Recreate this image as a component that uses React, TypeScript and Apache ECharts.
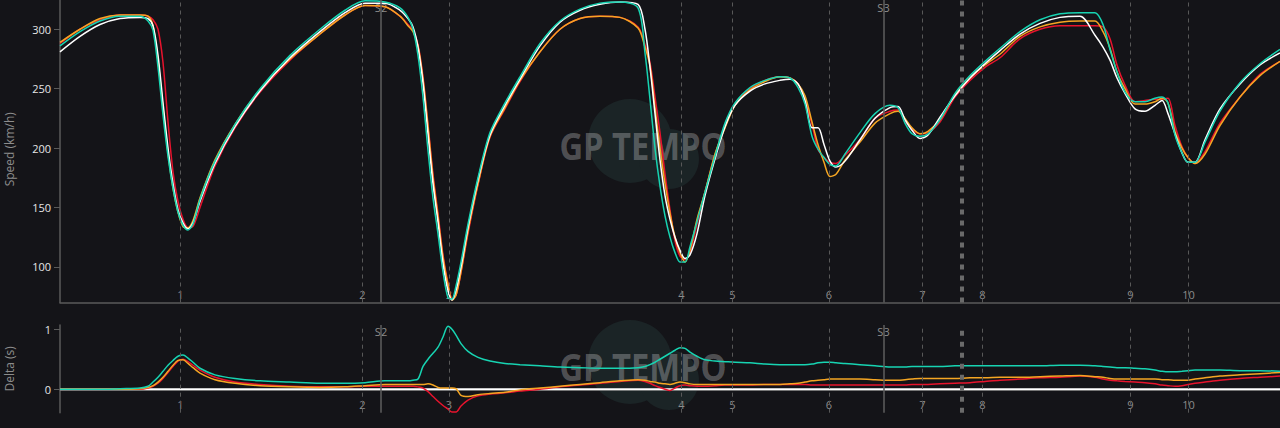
import React, { useEffect, useRef } from "react";
import * as echarts from "echarts";

// lap distance (m) of each sample
const distance = [
  0, 40, 80, 120, 160, 176, 186, 196, 206, 216, 226, 236, 246, 256, 266, 280, 310, 350, 400, 460,
  520, 570, 610, 650, 680, 696, 706, 716, 726, 736, 746, 756, 766, 776, 784, 792, 802, 816, 836, 860,
  890, 920, 960, 1000, 1040, 1080, 1120, 1156, 1170, 1180, 1190, 1200, 1210, 1220, 1230, 1240, 1250, 1260, 1274, 1290,
  1310, 1330, 1350, 1380, 1410, 1440, 1460, 1476, 1490, 1504, 1516, 1528, 1540, 1552, 1570, 1600, 1630, 1660, 1676, 1690,
  1704, 1720, 1736, 1760, 1790, 1820, 1850, 1880, 1920, 1960, 2000, 2040, 2070, 2086, 2100, 2114, 2130, 2150, 2170, 2190,
  2204, 2216, 2230, 2244, 2256, 2270, 2290, 2320, 2360, 2400, 2440,
];

const speedWhite = [
  281, 294, 304, 309, 310, 309, 303, 278, 238, 200, 170, 148, 137, 132, 137,
  155, 187, 218, 248, 276, 298, 314, 322, 322, 316, 309, 302, 285, 255, 212,
  170, 138, 103, 80, 72, 80, 100, 133, 173, 211, 236, 258, 286, 306, 316,
  321, 323, 321, 300, 268, 229, 190, 160, 140, 125, 114, 107, 110, 128, 160,
  191, 218, 236, 248, 254, 257, 258, 254, 240, 217, 217, 203, 189, 184, 189,
  207, 225, 234, 235, 224, 215, 208, 211, 226, 244, 259, 271, 282, 296, 305,
  310, 311, 295, 285, 274, 259, 246, 233, 231, 236, 240, 229, 212, 196, 188,
  188, 207, 233, 254, 270, 280,
];
const speedTeal = [
  286, 298, 307, 311, 311, 307, 299, 268, 228, 193, 166, 146, 135, 131, 136,
  157, 189, 220, 250, 278, 300, 316, 324, 323, 318, 310, 300, 278, 243, 198,
  158, 128, 96, 74, 73, 84, 104, 136, 175, 213, 238, 260, 288, 307, 317,
  322, 323, 318, 280, 241, 200, 168, 143, 125, 112, 104, 104, 117, 138, 163,
  193, 221, 238, 251, 257, 260, 259, 251, 237, 210, 199, 192, 186, 185, 195,
  213, 229, 236, 234, 221, 212, 210, 212, 224, 246, 261, 273, 284, 298, 308,
  313, 314, 314, 304, 283, 264, 247, 239, 239, 242, 243, 238, 211, 196, 188,
  188, 205, 231, 255, 271, 283,
];
const speedOrange = [
  289, 300, 309, 312, 312, 311, 303, 274, 234, 196, 166, 146, 134, 133, 139,
  158, 190, 220, 249, 275, 296, 312, 320, 319, 311, 303, 298, 286, 258, 218,
  175, 142, 108, 85, 72, 76, 96, 130, 170, 210, 234, 257, 281, 300, 309,
  311, 310, 301, 285, 269, 234, 200, 170, 145, 125, 112, 104, 114, 140, 163,
  195, 217, 236, 249, 256, 260, 259, 254, 244, 222, 203, 188, 176, 178, 190,
  205, 221, 229, 231, 225, 217, 212, 214, 224, 245, 259, 270, 279, 294, 302,
  306, 307, 307, 298, 284, 264, 250, 237, 237, 239, 242, 238, 214, 200, 192,
  187, 195, 219, 243, 261, 273,
];
const speedRed = [
  288, 300, 308, 312, 312, 311, 308, 300, 272, 222, 180, 155, 140, 133, 134,
  150, 185, 217, 247, 274, 296, 312, 320, 319, 311, 304, 299, 287, 260, 220,
  178, 145, 110, 86, 73, 76, 95, 128, 169, 209, 233, 256, 281, 300, 309,
  311, 310, 302, 287, 272, 243, 213, 178, 148, 122, 109, 106, 112, 136, 163,
  194, 219, 237, 250, 257, 260, 259, 254, 240, 220, 199, 192, 188, 187, 194,
  207, 225, 231, 232, 223, 216, 212, 213, 222, 243, 257, 268, 276, 292, 300,
  303, 303, 303, 302, 292, 270, 253, 239, 240, 241, 241, 242, 219, 201, 192,
  187, 197, 221, 243, 262, 273,
];

// delta to the reference lap (s)
const deltaWhiteDistance = [0, 2440];
const deltaWhite = [0, 0];
const deltaTeal = [
  0, 0, 0, 0.01, 0.02, 0.05, 0.12, 0.2, 0.3, 0.4, 0.48, 0.55, 0.57, 0.52, 0.45,
  0.35, 0.24, 0.18, 0.14, 0.12, 0.1, 0.1, 0.11, 0.14, 0.14, 0.14, 0.15, 0.17, 0.38, 0.5,
  0.6, 0.7, 0.87, 1.05, 1.0, 0.9, 0.76, 0.63, 0.53, 0.47, 0.43, 0.41, 0.39, 0.37, 0.36,
  0.35, 0.35, 0.36, 0.38, 0.41, 0.45, 0.5, 0.55, 0.6, 0.65, 0.69, 0.68, 0.62, 0.55, 0.49,
  0.47, 0.46, 0.45, 0.44, 0.42, 0.41, 0.41, 0.41, 0.41, 0.42, 0.44, 0.45, 0.45, 0.44, 0.43,
  0.41, 0.39, 0.37, 0.37, 0.37, 0.38, 0.38, 0.38, 0.38, 0.39, 0.39, 0.39, 0.39, 0.39, 0.39,
  0.4, 0.4, 0.39, 0.38, 0.37, 0.36, 0.36, 0.35, 0.34, 0.32, 0.3, 0.29, 0.29, 0.3, 0.31,
  0.32, 0.32, 0.32, 0.31, 0.31, 0.3,
];
const deltaOrange = [
  0, 0, 0, 0, 0.01, 0.03, 0.06, 0.12, 0.2, 0.3, 0.4, 0.48, 0.49, 0.43, 0.36,
  0.27, 0.16, 0.1, 0.06, 0.04, 0.03, 0.04, 0.06, 0.08, 0.08, 0.08, 0.08, 0.08, 0.08, 0.09,
  0.07, 0.03, 0.02, 0.02, 0.02, 0.01, -0.1, -0.12, -0.09, -0.07, -0.05, -0.01, 0.02, 0.05, 0.08,
  0.11, 0.14, 0.16, 0.15, 0.13, 0.12, 0.1, 0.09, 0.08, 0.1, 0.12, 0.11, 0.09, 0.08, 0.08,
  0.08, 0.08, 0.08, 0.08, 0.08, 0.08, 0.09, 0.1, 0.12, 0.14, 0.15, 0.16, 0.17, 0.17, 0.17,
  0.17, 0.16, 0.15, 0.15, 0.16, 0.17, 0.18, 0.18, 0.18, 0.18, 0.19, 0.19, 0.2, 0.2, 0.21,
  0.22, 0.23, 0.21, 0.2, 0.18, 0.17, 0.17, 0.17, 0.17, 0.17, 0.16, 0.16, 0.15, 0.15, 0.15,
  0.17, 0.19, 0.22, 0.24, 0.26, 0.28,
];
const deltaRed = [
  0, 0, 0, 0, 0, 0.02, 0.05, 0.1, 0.18, 0.28, 0.38, 0.47, 0.5, 0.46, 0.4,
  0.32, 0.2, 0.12, 0.08, 0.05, 0.04, 0.04, 0.05, 0.05, 0.05, 0.05, 0.05, 0.04, 0.02, -0.04,
  -0.12, -0.2, -0.27, -0.33, -0.38, -0.38, -0.28, -0.18, -0.11, -0.08, -0.06, -0.03, 0.0, 0.04, 0.07,
  0.1, 0.13, 0.15, 0.13, 0.1, 0.06, 0.03, 0.0, -0.02, 0.02, 0.06, 0.07, 0.06, 0.05, 0.05,
  0.06, 0.07, 0.07, 0.07, 0.08, 0.08, 0.08, 0.08, 0.08, 0.07, 0.07, 0.07, 0.07, 0.07, 0.07,
  0.07, 0.07, 0.07, 0.07, 0.07, 0.08, 0.08, 0.08, 0.09, 0.1, 0.11, 0.13, 0.15, 0.17, 0.19,
  0.2, 0.22, 0.2, 0.17, 0.15, 0.14, 0.13, 0.12, 0.11, 0.09, 0.07, 0.06, 0.05, 0.06, 0.08,
  0.1, 0.12, 0.15, 0.18, 0.2, 0.22,
];

const turnLabels = ["1", "2", "3", "4", "5", "6", "7", "8", "9", "10"];
const turnDistance = [241, 605, 778, 1243, 1345, 1538, 1725, 1845, 2141, 2257];
const sectorLabels = ["S2", "S3"];
const sectorDistance = [642, 1647];
const markerDistance = [1803];
const speedTicks = [100, 150, 200, 250, 300];
const deltaTicks = [0, 1];

const C_WHITE = "#ffffff";
const C_TEAL = "#17d4b2";
const C_ORANGE = "#f5a623";
const C_RED = "#e8132d";
const AXIS = "#5a5a5a";
const LABEL_GREY = "#8c8c8c";

const pairs = (xs: number[], ys: number[]) => xs.map((x, i) => [x, ys[i]]);

function watermark(cy: number) {
  return [
    { type: "circle", silent: true, z: 0, shape: { cx: 630, cy: cy - 4, r: 42 }, style: { fill: "#1b2426" } },
    { type: "circle", silent: true, z: 0, shape: { cx: 669, cy: cy + 14, r: 30 }, style: { fill: "#1b2426" } },
    {
      type: "text",
      silent: true,
      z: 1,
      x: 643,
      y: cy,
      scaleX: 0.86,
      style: {
        text: "GP TEMPO",
        font: 'bold 38px "Open Sans", sans-serif',
        fill: "rgba(255,255,255,0.27)",
        align: "center",
        verticalAlign: "middle",
      },
    },
  ];
}

function markLines() {
  return {
    silent: true,
    symbol: ["none", "none"],
    label: { show: false },
    emphasis: { disabled: true },
    animation: false,
    data: [
      ...turnDistance.map((d) => ({ xAxis: d, lineStyle: { color: "#585858", width: 1, type: [4, 4] } })),
      ...sectorDistance.map((d) => ({ xAxis: d, lineStyle: { color: "#5e5e5e", width: 1.5, type: "solid" } })),
      ...markerDistance.map((d) => ({ xAxis: d, lineStyle: { color: "#6a6a6a", width: 4, type: [5, 6] } })),
    ],
  };
}

export default function App() {
  const ref = useRef<HTMLDivElement>(null);
  useEffect(() => {
    if (!ref.current) return;
    const chart = echarts.init(ref.current, undefined, { renderer: "svg" });

    const xBottom = (gridIndex: number) => ({
      type: "value",
      gridIndex,
      min: 0,
      max: 2440,
      position: "bottom",
      axisLine: { show: true, lineStyle: { color: AXIS, width: 1.5 } },
      axisTick: { show: false },
      splitLine: { show: false },
      axisLabel: {
        inside: true,
        margin: 3,
        color: LABEL_GREY,
        fontSize: 11,
        customValues: turnDistance,
        formatter: (v: number) => {
          const i = turnDistance.indexOf(v);
          return i >= 0 ? turnLabels[i] : "";
        },
      },
    });
    const xTop = (gridIndex: number, margin: number) => ({
      type: "value",
      gridIndex,
      min: 0,
      max: 2440,
      position: "top",
      axisLine: { show: false },
      axisTick: { show: false },
      splitLine: { show: false },
      axisLabel: {
        inside: true,
        margin,
        color: LABEL_GREY,
        fontSize: 11,
        customValues: sectorDistance,
        formatter: (v: number) => {
          const i = sectorDistance.indexOf(v);
          return i >= 0 ? sectorLabels[i] : "";
        },
      },
    });

    const lineSeries = (name: string, color: string, data: number[][], xi: number, yi: number, width = 1.5, z = 3) => ({
      name,
      type: "line",
      xAxisIndex: xi,
      yAxisIndex: yi,
      data,
      showSymbol: false,
      symbol: "none",
      smooth: 0.3,
      z,
      lineStyle: { color, width },
      emphasis: { disabled: true },
      silent: true,
    });

    chart.setOption({
      animation: false,
      backgroundColor: "#141418",
      textStyle: { fontFamily: '"Open Sans", sans-serif' },
      graphic: [...watermark(145), ...watermark(366)],
      grid: [
        { left: 60, right: 0, top: -4, bottom: 125.5, containLabel: false, outerBoundsMode: "none" },
        { left: 60, right: 0, top: 325, bottom: 15.3, containLabel: false, outerBoundsMode: "none" },
      ],
      xAxis: [xBottom(0), xTop(0, 6), xBottom(1), xTop(1, 1)],
      yAxis: [
        {
          type: "value",
          gridIndex: 0,
          min: 70,
          max: 328,
          name: "Speed (km/h)",
          nameLocation: "middle",
          nameGap: 45,
          nameTextStyle: { color: LABEL_GREY, fontSize: 12 },
          axisLine: { show: true, lineStyle: { color: AXIS, width: 1.5 } },
          axisTick: { show: true, length: 6, lineStyle: { color: AXIS }, customValues: speedTicks },
          axisLabel: { color: "#e6e6e6", fontSize: 11, margin: 9, customValues: speedTicks },
          splitLine: { show: false },
        },
        {
          type: "value",
          gridIndex: 1,
          min: -0.39,
          max: 1.07,
          name: "Delta (s)",
          nameLocation: "middle",
          nameGap: 45,
          nameTextStyle: { color: LABEL_GREY, fontSize: 12 },
          axisLine: { show: true, lineStyle: { color: AXIS, width: 1.5 } },
          axisTick: { show: true, length: 6, lineStyle: { color: AXIS }, customValues: deltaTicks },
          axisLabel: { color: "#e6e6e6", fontSize: 11, margin: 9, customValues: deltaTicks },
          splitLine: { show: false },
        },
      ],
      series: [
        {
          type: "line",
          xAxisIndex: 0,
          yAxisIndex: 0,
          data: pairs(distance, speedWhite),
          symbol: "none",
          lineStyle: { opacity: 0 },
          silent: true,
          z: 1,
          markLine: markLines(),
        },
        {
          type: "line",
          xAxisIndex: 2,
          yAxisIndex: 1,
          data: pairs(deltaWhiteDistance, deltaWhite),
          symbol: "none",
          lineStyle: { opacity: 0 },
          silent: true,
          z: 1,
          markLine: markLines(),
        },
        lineSeries("Red", C_RED, pairs(distance, speedRed), 0, 0),
        lineSeries("Orange", C_ORANGE, pairs(distance, speedOrange), 0, 0),
        lineSeries("White", C_WHITE, pairs(distance, speedWhite), 0, 0),
        lineSeries("Teal", C_TEAL, pairs(distance, speedTeal), 0, 0),
        lineSeries("White Δ", C_WHITE, pairs(deltaWhiteDistance, deltaWhite), 2, 1, 2),
        lineSeries("Red Δ", C_RED, pairs(distance, deltaRed), 2, 1),
        lineSeries("Orange Δ", C_ORANGE, pairs(distance, deltaOrange), 2, 1),
        lineSeries("Teal Δ", C_TEAL, pairs(distance, deltaTeal), 2, 1),
      ],
    });
    return () => chart.dispose();
  }, []);

  return (
    <div
      ref={ref}
      style={{ position: "absolute", left: 0, top: 0, width: 1280, height: 428, background: "#141418" }}
    />
  );
}
